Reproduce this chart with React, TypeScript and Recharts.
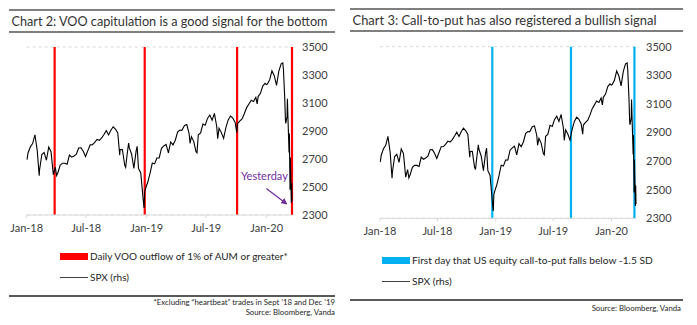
import React from "react";
import {
  ComposedChart,
  Line,
  XAxis,
  YAxis,
  CartesianGrid,
  ReferenceLine,
  ReferenceDot,
} from "recharts";

// SPX closes (approx)
const spxDates = [
  "2018-01-02", "2018-01-05", "2018-01-12", "2018-01-19", "2018-01-26", "2018-02-02",
  "2018-02-08", "2018-02-09", "2018-02-16", "2018-02-23", "2018-03-02", "2018-03-09",
  "2018-03-16", "2018-03-23", "2018-03-29", "2018-04-02", "2018-04-06", "2018-04-13",
  "2018-04-20", "2018-04-27", "2018-05-04", "2018-05-11", "2018-05-18", "2018-05-25",
  "2018-06-01", "2018-06-08", "2018-06-15", "2018-06-22", "2018-06-29", "2018-07-06",
  "2018-07-13", "2018-07-20", "2018-07-27", "2018-08-03", "2018-08-10", "2018-08-17",
  "2018-08-24", "2018-08-31", "2018-09-07", "2018-09-14", "2018-09-21", "2018-09-28",
  "2018-10-05", "2018-10-11", "2018-10-12", "2018-10-19", "2018-10-26", "2018-10-29",
  "2018-11-02", "2018-11-07", "2018-11-09", "2018-11-16", "2018-11-23", "2018-11-30",
  "2018-12-03", "2018-12-07", "2018-12-14", "2018-12-21", "2018-12-24", "2018-12-26",
  "2018-12-31", "2019-01-04", "2019-01-11", "2019-01-18", "2019-01-25", "2019-02-01",
  "2019-02-08", "2019-02-15", "2019-02-22", "2019-03-01", "2019-03-08", "2019-03-15",
  "2019-03-22", "2019-03-29", "2019-04-05", "2019-04-12", "2019-04-18", "2019-04-26",
  "2019-05-03", "2019-05-10", "2019-05-13", "2019-05-17", "2019-05-24", "2019-05-31",
  "2019-06-03", "2019-06-07", "2019-06-14", "2019-06-21", "2019-06-28", "2019-07-05",
  "2019-07-12", "2019-07-19", "2019-07-26", "2019-08-02", "2019-08-05", "2019-08-09",
  "2019-08-16", "2019-08-23", "2019-08-30", "2019-09-06", "2019-09-13", "2019-09-20",
  "2019-09-27", "2019-10-02", "2019-10-04", "2019-10-11", "2019-10-18", "2019-10-25",
  "2019-11-01", "2019-11-08", "2019-11-15", "2019-11-22", "2019-11-29", "2019-12-03",
  "2019-12-06", "2019-12-13", "2019-12-20", "2019-12-27", "2019-12-31", "2020-01-03",
  "2020-01-10", "2020-01-17", "2020-01-24", "2020-01-31", "2020-02-07", "2020-02-14",
  "2020-02-19", "2020-02-21", "2020-02-25", "2020-02-27", "2020-02-28", "2020-03-03",
  "2020-03-04", "2020-03-06", "2020-03-09", "2020-03-10", "2020-03-12", "2020-03-13",
  "2020-03-16", "2020-03-17", "2020-03-18",
];
const spxValues = [
  2695, 2743, 2786, 2810, 2873, 2762,
  2581, 2620, 2732, 2747, 2691, 2786,
  2752, 2588, 2641, 2582, 2604, 2656,
  2670, 2670, 2663, 2728, 2713, 2721,
  2735, 2779, 2780, 2755, 2718, 2760,
  2801, 2802, 2819, 2840, 2833, 2850,
  2875, 2902, 2872, 2905, 2930, 2914,
  2886, 2728, 2767, 2768, 2658, 2641,
  2723, 2814, 2781, 2736, 2633, 2760,
  2790, 2633, 2600, 2417, 2351, 2468,
  2507, 2532, 2596, 2671, 2665, 2707,
  2708, 2776, 2793, 2804, 2743, 2822,
  2801, 2834, 2893, 2907, 2905, 2940,
  2946, 2881, 2812, 2860, 2826, 2752,
  2744, 2873, 2887, 2950, 2942, 2990,
  3014, 2977, 3026, 2932, 2845, 2919,
  2889, 2847, 2926, 2979, 3007, 2992,
  2962, 2888, 2952, 2970, 2986, 3023,
  3067, 3093, 3120, 3110, 3141, 3093,
  3146, 3169, 3221, 3240, 3231, 3235,
  3265, 3330, 3295, 3226, 3328, 3380,
  3386, 3338, 3128, 2979, 2954, 3003,
  3130, 2972, 2747, 2882, 2481, 2711,
  2386, 2529, 2398,
];

const vooOutflowDates = ["2018-03-27", "2018-12-26", "2019-10-03", "2020-03-18"];
const callPutDates = ["2018-12-21", "2019-08-26", "2020-03-13"];

const tickDates = ["2018-01-01", "2018-07-01", "2019-01-01", "2019-07-01", "2020-01-01"];
const tickLabels = ["Jan-18", "Jul-18", "Jan-19", "Jul-19", "Jan-20"];
const spxTicks = [2300, 2500, 2700, 2900, 3100, 3300, 3500];

// "Yesterday" annotation anchor points [date, level]
const yesterdayText: [string, number] = ["2019-12-25", 2575];
const yesterdayArrow: [string, number][] = [
  ["2019-12-31", 2490],
  ["2020-03-01", 2380],
];

const FONT = "Lato, 'Open Sans', sans-serif";
const RED = "#ff0000";
const BLUE = "#00b0f0";
const PURPLE = "#7030a0";

const day = (s: string) => {
  const [y, m, d] = s.split("-").map(Number);
  return (Date.UTC(y, m - 1, d) - Date.UTC(2018, 0, 1)) / 86400000;
};

const data = spxDates.map((d, i) => ({ t: day(d), spx: spxValues[i] }));
const xTicks = tickDates.map(day);
const fmtX = (v: number) => tickLabels[xTicks.indexOf(v)] ?? "";

type PanelProps = {
  left: number;
  width: number;
  plotLeft: number;
  plotRight: number;
  plotTop: number;
  plotBottom: number;
  gridSteps: number;
  events: string[];
  eventColor: string;
  annotate?: boolean;
};

function Panel(p: PanelProps) {
  const H = 240;
  const gridTicks = Array.from({ length: p.gridSteps + 1 }, (_, i) => i);
  return (
    <div style={{ position: "absolute", left: p.left, top: 0 }}>
      <ComposedChart
        width={p.width}
        height={H}
        data={data}
        margin={{ top: p.plotTop, left: p.plotLeft, right: 0, bottom: 0 }}
      >
        <defs>
          <marker
            id="yArrow"
            viewBox="0 0 10 10"
            refX="8"
            refY="5"
            markerWidth="5"
            markerHeight="5"
            orient="auto"
          >
            <path d="M0,0 L10,5 L0,10 z" fill={PURPLE} />
          </marker>
        </defs>
        <CartesianGrid
          yAxisId="grid"
          vertical={false}
          stroke="#d9d9d9"
          strokeDasharray="3 3"
        />
        <XAxis
          dataKey="t"
          type="number"
          domain={[0, 807]}
          ticks={xTicks}
          tickFormatter={fmtX}
          height={H - p.plotBottom}
          stroke="#d9d9d9"
          tickSize={3}
          tickMargin={6}
          tick={{ fill: "#404040", fontSize: 11, fontFamily: FONT }}
        />
        <YAxis
          yAxisId="grid"
          orientation="left"
          domain={[0, p.gridSteps]}
          ticks={gridTicks}
          hide
        />
        <YAxis
          yAxisId="spx"
          orientation="right"
          domain={[2300, 3500]}
          ticks={spxTicks}
          width={p.width - p.plotRight}
          axisLine={false}
          tickLine={false}
          tickSize={0}
          tickMargin={10}
          tick={{ fill: "#404040", fontSize: 11, fontFamily: FONT, textAnchor: "start" }}
        />
        {p.events.map((d) => (
          <ReferenceLine
            key={d}
            yAxisId="spx"
            x={day(d)}
            stroke={p.eventColor}
            strokeWidth={2.2}
          />
        ))}
        <Line
          yAxisId="spx"
          dataKey="spx"
          type="linear"
          stroke="#000"
          strokeWidth={1.1}
          dot={false}
          isAnimationActive={false}
        />
        {p.annotate && (
          <ReferenceLine
            yAxisId="spx"
            segment={yesterdayArrow.map(([d, v]) => ({ x: day(d), y: v }))}
            stroke={PURPLE}
            strokeWidth={1.3}
            markerEnd="url(#yArrow)"
          />
        )}
        {p.annotate && (
          <ReferenceDot
            yAxisId="spx"
            x={day(yesterdayText[0])}
            y={yesterdayText[1]}
            r={0}
            fill="none"
            stroke="none"
            label={{
              value: "Yesterday",
              position: "center",
              fill: PURPLE,
              fontSize: 11,
              fontFamily: FONT,
            }}
          />
        )}
      </ComposedChart>
    </div>
  );
}

const txt: React.CSSProperties = {
  position: "absolute",
  fontFamily: FONT,
  color: "#262626",
  whiteSpace: "nowrap",
};

function Title({ x, w, y0, text, tw }: { x: number; w: number; y0: number; text: string; tw: number }) {
  return (
    <>
      <div style={{ position: "absolute", left: x, top: y0, width: w, height: 2, background: "#7f7f7f" }} />
      <svg
        style={{ position: "absolute", left: x, top: y0 + 2, overflow: "visible" }}
        width={w + 20}
        height={20}
      >
        <text
          x={2.5}
          y={14.5}
          fontSize={14}
          fontFamily={FONT}
          fill="#333"
          textLength={tw}
          lengthAdjust="spacingAndGlyphs"
        >
          {text}
        </text>
      </svg>
      <div style={{ position: "absolute", left: x, top: y0 + 22, width: w, height: 2, background: "#7f7f7f" }} />
    </>
  );
}

function LegendRows({
  x,
  y,
  color,
  label,
  fs,
}: {
  x: number;
  y: number;
  color: string;
  label: string;
  fs: number;
}) {
  return (
    <>
      <div style={{ position: "absolute", left: x, top: y - 3, width: 28, height: 7, background: color }} />
      <div style={{ ...txt, left: x + 30, top: y - 8, fontSize: fs, lineHeight: "16px" }}>{label}</div>
      <div style={{ position: "absolute", left: x, top: y + 21, width: 28, height: 1, background: "#404040" }} />
      <div style={{ ...txt, left: x + 30, top: y + 13, fontSize: fs, lineHeight: "16px" }}>SPX (rhs)</div>
    </>
  );
}

export default function App() {
  return (
    <div
      style={{
        position: "absolute",
        left: 0,
        top: 0,
        width: 697,
        height: 325,
        background: "#fff",
        overflow: "hidden",
      }}
    >
      <Title x={9} w={326} y0={9} tw={316} text="Chart 2: VOO capitulation is a good signal for the bottom" />
      <Title x={350} w={333} y0={8} tw={304} text="Chart 3: Call-to-put has also registered a bullish signal" />

      <Panel
        left={0}
        width={340}
        plotLeft={26.7}
        plotRight={292}
        plotTop={47}
        plotBottom={215}
        gridSteps={8}
        events={vooOutflowDates}
        eventColor={RED}
        annotate
      />
      <Panel
        left={350}
        width={340}
        plotLeft={30}
        plotRight={286}
        plotTop={46.7}
        plotBottom={218.3}
        gridSteps={10}
        events={callPutDates}
        eventColor={BLUE}
      />

      <LegendRows x={60} y={256} fs={10} color={RED} label="Daily VOO outflow of 1% of AUM or greater*" />
      <LegendRows x={382} y={260} fs={10.2} color={BLUE} label="First day that US equity call-to-put falls below -1.5 SD" />

      <div style={{ position: "absolute", left: 9, top: 295, width: 326, height: 2, background: "#595959" }} />
      <div style={{ ...txt, right: 697 - 335, top: 297, fontSize: 7.8, lineHeight: "10px", textAlign: "right" }}>
        *Excluding “heartbeat” trades in Sept ’18 and Dec ’19
        <br />
        Source: Bloomberg, Vanda
      </div>

      <div style={{ position: "absolute", left: 350, top: 299, width: 333, height: 2, background: "#595959" }} />
      <div style={{ ...txt, right: 697 - 681, top: 303, fontSize: 7.8, lineHeight: "10px", textAlign: "right" }}>
        Source: Bloomberg, Vanda
      </div>
    </div>
  );
}
